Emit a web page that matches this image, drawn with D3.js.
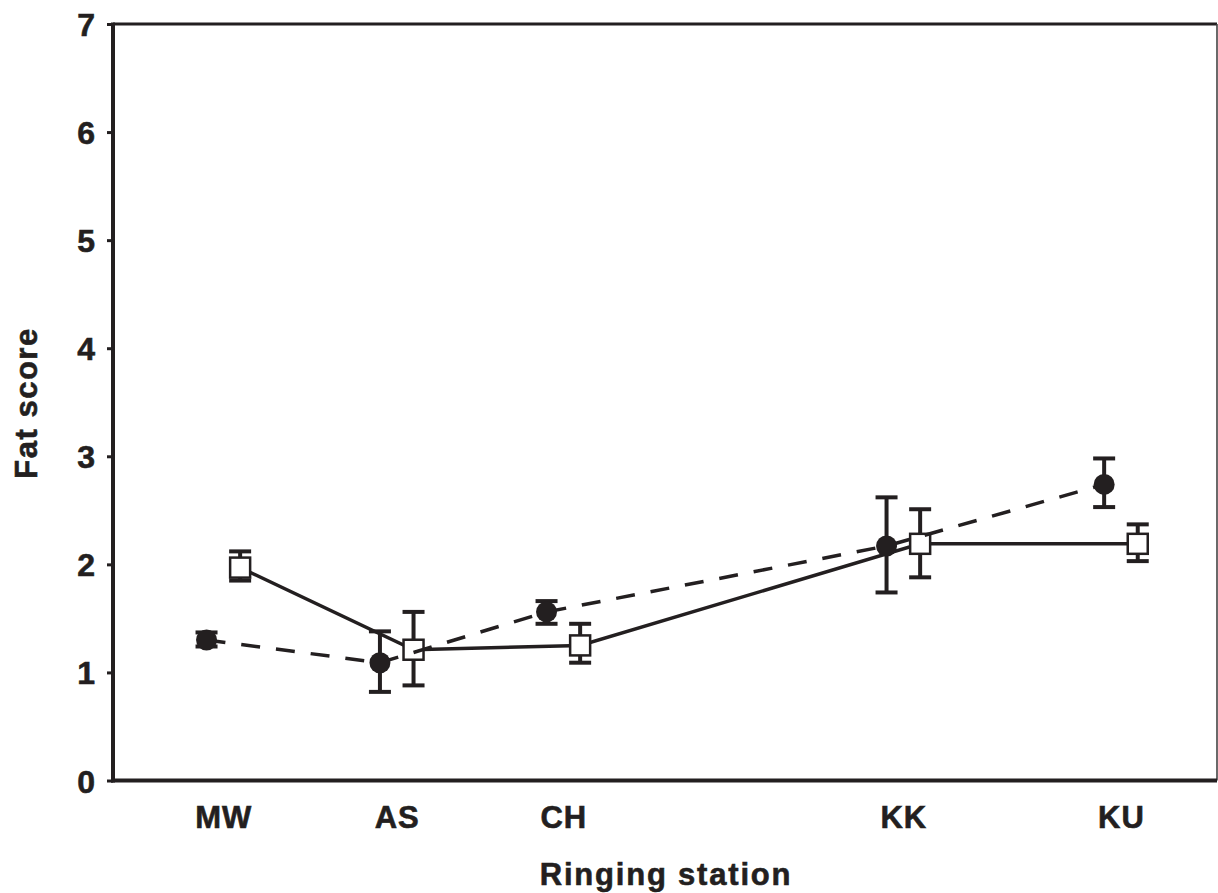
<!DOCTYPE html>
<html>
<head>
<meta charset="utf-8">
<script src="https://cdn.jsdelivr.net/npm/d3@7"></script>
<style>
  html, body { margin: 0; padding: 0; background: #fff; }
  svg { display: block; }
  text { font-family: "Liberation Sans", Arial, sans-serif; font-weight: bold; fill: #231f20; stroke: #231f20; stroke-width: 0.6px; }
</style>
</head>
<body>
<svg id="chart" width="1218" height="893"></svg>
<script>
// ---- data ----
const stations = ["MW", "AS", "CH", "KK", "KU"];
const stationPos = [1, 2.02, 3, 5, 6.28];          // relative position along the route
const yTicks = [0, 1, 2, 3, 4, 5, 6, 7];

// filled circles, dashed line
const circleMean = [1.30, 1.09, 1.56, 2.17, 2.74];
const circleLow  = [1.24, 0.82, 1.45, 1.74, 2.53];
const circleHigh = [1.37, 1.38, 1.66, 2.62, 2.98];

// open squares, solid line
const squareMean = [1.97, 1.21, 1.25, 2.19, 2.19];
const squareLow  = [1.85, 0.88, 1.09, 1.88, 2.03];
const squareHigh = [2.12, 1.56, 1.45, 2.51, 2.37];

// ---- layout ----
(function () {
const ink = "#231f20";
const pL = 113, pR = 1217, pT = 24, pB = 780.5;
const svg = d3.select("#chart");

const x = d3.scaleLinear().domain([0.351, 6.845]).range([pL, pR]);
const y = d3.scaleLinear().domain([0, 7]).range([pB, pT]);
const offset = 16.8;

// frame: top/right
svg.append("line").attr("x1", pL).attr("x2", pR).attr("y1", pT).attr("y2", pT)
  .attr("stroke", ink).attr("stroke-width", 3);
svg.append("line").attr("x1", pR).attr("x2", pR).attr("y1", pT).attr("y2", pB)
  .attr("stroke", "#444").attr("stroke-width", 1.6);

// y axis
const yAxis = d3.axisLeft(y).tickValues(yTicks).tickSize(6).tickPadding(12).tickFormat(d3.format("d"));
const gy = svg.append("g").attr("transform", `translate(${pL},0)`).call(yAxis);
gy.select(".domain").attr("stroke", ink).attr("stroke-width", 4).attr("d", `M0,${pT - 1.5}V${pB + 2}`);
gy.selectAll(".tick line").attr("stroke", ink).attr("stroke-width", 3);
gy.selectAll(".tick text").style("font-size", "32px").attr("dy", "0.36em")
  .style("font-family", '"Liberation Sans", Arial, sans-serif').style("font-weight", "bold").attr("fill", ink);

// x axis (no ticks)
const xAxis = d3.axisBottom(x).tickValues(stationPos).tickSize(0).tickPadding(25)
  .tickFormat((d, i) => stations[i]);
const gx = svg.append("g").attr("transform", `translate(0,${pB})`).call(xAxis);
gx.select(".domain").attr("stroke", ink).attr("stroke-width", 4).attr("d", `M${pL - 2},0H${pR}`);
gx.selectAll(".tick text").style("font-size", "31px").style("letter-spacing", "1px").attr("dy", "0.71em")
  .style("font-family", '"Liberation Sans", Arial, sans-serif').style("font-weight", "bold").attr("fill", ink);

// axis titles
svg.append("text").attr("x", 666).attr("y", 885).attr("text-anchor", "middle")
  .style("font-size", "31px").style("letter-spacing", "1.8px").text("Ringing station");
svg.append("text").attr("transform", "translate(37,403) rotate(-90)").attr("text-anchor", "middle")
  .style("font-size", "31px").style("letter-spacing", "1.5px").text("Fat score");

function series(mean, low, high, dx, dashed, marker) {
  const pts = stations.map((s, i) => ({ x: x(stationPos[i]) + dx, m: mean[i], lo: low[i], hi: high[i] }));
  const g = svg.append("g");
  g.append("path").datum(pts)
    .attr("d", d3.line().x(d => d.x).y(d => y(d.m)))
    .attr("fill", "none").attr("stroke", ink).attr("stroke-width", 3.5)
    .attr("stroke-dasharray", dashed ? "19,16" : null);
  const eb = g.selectAll(".eb").data(pts).enter().append("g");
  eb.append("line").attr("x1", d => d.x).attr("x2", d => d.x)
    .attr("y1", d => y(d.lo)).attr("y2", d => y(d.hi)).attr("stroke", ink).attr("stroke-width", 4);
  ["lo", "hi"].forEach(k => {
    eb.append("line").attr("x1", d => d.x - 11).attr("x2", d => d.x + 11)
      .attr("y1", d => y(d[k])).attr("y2", d => y(d[k])).attr("stroke", ink).attr("stroke-width", 4);
  });
  if (marker === "circle") {
    g.selectAll(".mk").data(pts).enter().append("circle")
      .attr("cx", d => d.x).attr("cy", d => y(d.m)).attr("r", 10.5).attr("fill", ink);
  } else {
    g.selectAll(".mk").data(pts).enter().append("rect")
      .attr("x", d => d.x - 10).attr("y", d => y(d.m) - 10).attr("width", 20).attr("height", 20)
      .attr("fill", "#fff").attr("stroke", ink).attr("stroke-width", 2.5);
  }
}

series(squareMean, squareLow, squareHigh, offset, false, "square");
series(circleMean, circleLow, circleHigh, -offset, true, "circle");
})();
</script>
</body>
</html>
